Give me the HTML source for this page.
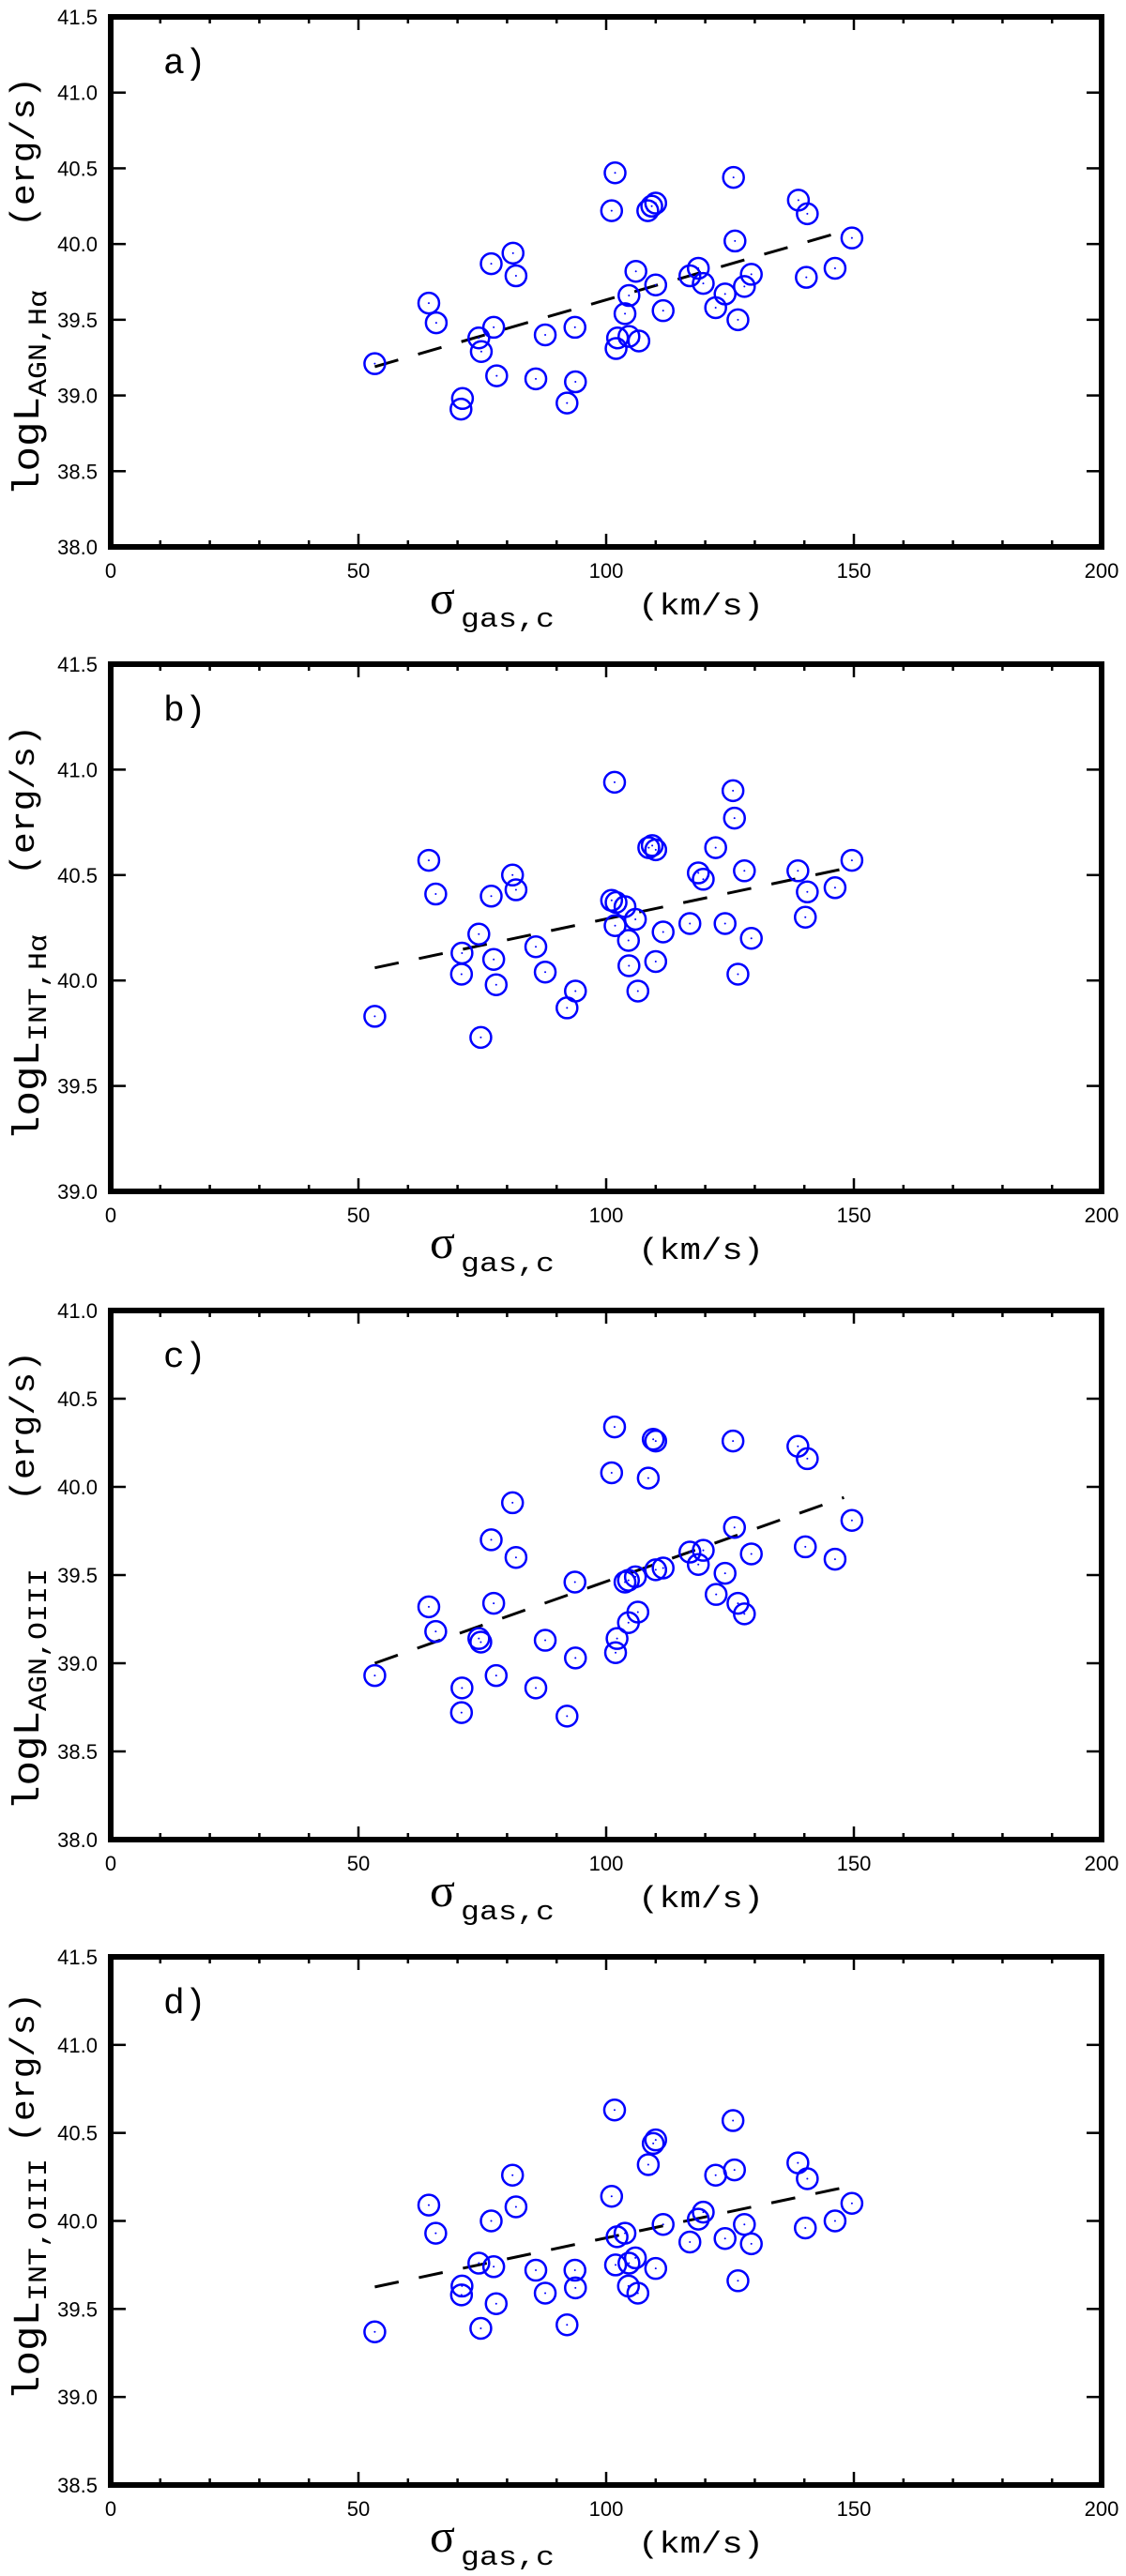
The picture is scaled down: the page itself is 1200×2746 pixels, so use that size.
<!DOCTYPE html>
<html><head><meta charset="utf-8"><style>
html,body{margin:0;padding:0;background:#fff;}
svg{display:block;}
</style></head><body>
<svg id="fig" width="1200" height="2746" viewBox="0 0 1200 2746" xmlns="http://www.w3.org/2000/svg"></svg>
<script>
// ---- data (sigma_gas,c in km/s ; log L in erg/s) ----
const xA = [53.3,64.2,65.7,76.8,81.2,81.8,77.3,74.3,74.8,77.9,71.0,70.7,87.7,93.7,85.8,93.8,92.1,101.8,101.1,108.4,109.2,110.0,106.0,110.0,104.6,103.8,111.5,102.3,102.0,104.6,106.6,125.7,126.0,116.9,118.6,119.6,129.3,127.9,124.0,122.1,126.6,138.8,140.6,149.6,146.2,140.4];
const yA = [39.21,39.61,39.48,39.87,39.94,39.79,39.45,39.38,39.29,39.13,38.98,38.91,39.40,39.45,39.11,39.09,38.95,40.47,40.22,40.22,40.25,40.27,39.82,39.73,39.66,39.54,39.56,39.38,39.31,39.39,39.36,40.44,40.02,39.79,39.84,39.74,39.80,39.72,39.67,39.58,39.50,40.29,40.20,40.04,39.84,39.78];
const xB = [101.7,125.6,125.9,108.6,109.3,110.0,122.1,64.2,149.6,81.1,81.8,65.6,76.8,127.9,138.7,118.6,119.6,140.6,146.2,140.2,101.1,102.0,103.8,105.9,101.8,104.5,111.5,116.9,124.0,129.3,74.3,70.9,77.3,85.8,70.8,77.8,87.7,104.6,110.0,126.6,93.8,92.1,106.4,53.3,74.7];
const yB = [40.94,40.90,40.77,40.63,40.64,40.62,40.63,40.57,40.57,40.50,40.43,40.41,40.40,40.52,40.52,40.51,40.48,40.42,40.44,40.30,40.38,40.37,40.35,40.29,40.26,40.19,40.23,40.27,40.27,40.20,40.22,40.13,40.10,40.16,40.03,39.98,40.04,40.07,40.09,40.03,39.95,39.87,39.95,39.83,39.73];
const xC = [101.7,109.5,110.0,125.6,138.7,140.6,101.1,108.5,81.1,149.6,125.9,76.8,81.8,140.2,146.2,116.9,119.6,129.3,118.6,124.0,110.0,111.5,103.8,104.5,105.9,93.7,64.2,77.3,106.4,104.5,122.2,126.6,127.9,65.6,74.3,74.7,87.7,102.2,101.9,93.8,53.3,77.8,70.9,85.8,70.8,92.1];
const yC = [40.34,40.27,40.26,40.26,40.23,40.16,40.08,40.05,39.91,39.81,39.77,39.70,39.60,39.66,39.59,39.63,39.64,39.62,39.56,39.51,39.53,39.54,39.46,39.47,39.49,39.46,39.32,39.34,39.29,39.23,39.39,39.34,39.28,39.18,39.14,39.12,39.13,39.14,39.06,39.03,38.93,38.93,38.86,38.86,38.72,38.70];
const xD = [101.7,125.6,109.5,110.0,108.5,81.1,125.9,122.1,138.7,140.6,64.2,81.8,101.1,149.6,65.6,76.8,118.6,119.6,111.5,127.9,146.2,140.2,102.2,103.8,116.9,124.0,129.3,74.3,77.3,85.8,93.7,101.9,104.6,105.9,110.0,93.8,104.5,106.4,126.6,70.9,70.8,87.7,77.8,92.1,74.7,53.3];
const yD = [40.63,40.57,40.44,40.46,40.32,40.26,40.29,40.26,40.33,40.24,40.09,40.08,40.14,40.10,39.93,40.00,40.01,40.05,39.98,39.98,40.00,39.96,39.91,39.93,39.88,39.90,39.87,39.76,39.74,39.72,39.72,39.75,39.76,39.79,39.73,39.62,39.63,39.59,39.66,39.63,39.58,39.59,39.53,39.41,39.39,39.37];
// regression line endpoints (x, y)
const fitX = [53.3,148.0];
const fitA = [39.19,40.085];
const fitB = [40.06,40.53];
const fitC = [39.00,39.94];
const fitD = [39.625,40.19];
// axis ranges / ticks
const xTicks = [0,50,100,150,200];
const yRangeA = [38.0,41.5], yRangeB = [39.0,41.5], yRangeC = [38.0,41.0], yRangeD = [38.5,41.5];

const NS = "http://www.w3.org/2000/svg";
const svg = document.getElementById('fig');
function mk(tag, attrs, parent){
  const e = document.createElementNS(NS, tag);
  for (const k in attrs) e.setAttribute(k, attrs[k]);
  (parent||svg).appendChild(e);
  return e;
}
const X0 = 118, X1 = 1174;
const panels = [
  {id:'a', top:18, bot:583, yr:yRangeA, xs:xA, ys:yA, fit:fitA, sub:'AGN,Hα', labStart:529, ergStart:242},
  {id:'b', top:708, bot:1270, yr:yRangeB, xs:xB, ys:yB, fit:fitB, sub:'INT,Hα', labStart:1216, ergStart:933},
  {id:'c', top:1397, bot:1961, yr:yRangeC, xs:xC, ys:yC, fit:fitC, sub:'AGN,OIII', labStart:1930, ergStart:1600},
  {id:'d', top:2086, bot:2649, yr:yRangeD, xs:xD, ys:yD, fit:fitD, sub:'INT,OIII', labStart:2559, ergStart:2284}
];
panels.forEach(p => {
  const g = mk('g', {});
  
  
  const sx = v => X0 + (v - 0) / 200 * (X1 - X0);
  const sy = v => p.bot - (v - p.yr[0]) / (p.yr[1] - p.yr[0]) * (p.bot - p.top);
  for (let v = 0; v <= 200; v += 10) {
    const major = v % 50 === 0;
    const L = major ? 14 : 7;
    const tb = mk('line', {x1:sx(v), x2:sx(v), y1:p.bot, y2:p.bot - L, stroke:'#000', 'stroke-width':2.5}, g);
    
    
    const tt = mk('line', {x1:sx(v), x2:sx(v), y1:p.top, y2:p.top + L, stroke:'#000', 'stroke-width':2.5}, g);
    
    
  }
  xTicks.forEach(v => {
    const t = mk('text', {x:sx(v), y:p.bot + 33, 'text-anchor':'middle', 'font-family':'Liberation Sans, sans-serif', 'font-size':22}, g);
    t.textContent = String(v);
    
    
  });
  for (let v = p.yr[0]; v <= p.yr[1] + 1e-9; v += 0.5) {
    const yl = mk('line', {x1:X0, x2:X0 + 16, y1:sy(v), y2:sy(v), stroke:'#000', 'stroke-width':2.5}, g);
    
    
    const yr = mk('line', {x1:X1, x2:X1 - 16, y1:sy(v), y2:sy(v), stroke:'#000', 'stroke-width':2.5}, g);
    
    
    const t = mk('text', {x:104, y:sy(v) + 8, 'text-anchor':'end', 'font-family':'Liberation Sans, sans-serif', 'font-size':22}, g);
    t.textContent = v.toFixed(1);
    
    
  }
  const fr = mk('rect', {x:X0, y:p.top, width:X1 - X0, height:p.bot - p.top, fill:'none', stroke:'#000', 'stroke-width':6}, g);
  
  
  const pl = mk('text', {x:174, y:p.top + 60, 'font-family':'Liberation Mono, monospace', 'font-size':38}, g);
  pl.textContent = p.id + ')';
  
  
  const fl = mk('line', {x1:sx(fitX[0]), y1:sy(p.fit[0]), x2:sx(fitX[1]), y2:sy(p.fit[1]), stroke:'#000', 'stroke-width':3, 'stroke-dasharray':'26 22'}, g);
  
  
  p.xs.forEach((xv, i) => {
    const c = mk('circle', {cx:sx(xv), cy:sy(p.ys[i]), r:11, fill:'none', stroke:'#0000ff', 'stroke-width':2.5}, g);
    
    
    const d = mk('circle', {cx:sx(xv), cy:sy(p.ys[i]), r:1, fill:'#0000ff'}, g);
    
    
  });
  const subLen = p.sub.length * 19;
  const yt = mk('text', {x:41, y:p.labStart, transform:'rotate(-90 41 ' + p.labStart + ')', 'font-family':'Liberation Mono, monospace', 'font-size':40, textLength:106, lengthAdjust:'spacingAndGlyphs'}, g);
  yt.textContent = 'logL';
  
  
  const ys2 = p.labStart - 106;
  const ysb = mk('text', {x:49, y:ys2, transform:'rotate(-90 49 ' + ys2 + ')', 'font-family':'Liberation Mono, "DejaVu Sans Mono", monospace', 'font-size':28, textLength:subLen, lengthAdjust:'spacingAndGlyphs'}, g);
  ysb.textContent = p.sub;
  
  
  const ye = mk('text', {x:36, y:p.ergStart, transform:'rotate(-90 36 ' + p.ergStart + ')', 'font-family':'Liberation Mono, monospace', 'font-size':36, textLength:160, lengthAdjust:'spacingAndGlyphs'}, g);
  ye.textContent = '(erg/s)';
  
  
  const xs1 = mk('text', {x:458, y:p.bot + 71, 'font-family':'Liberation Serif, serif', 'font-size':50}, g);
  xs1.textContent = 'σ';
  
  
  const xs2 = mk('text', {x:491, y:p.bot + 85, 'font-family':'Liberation Mono, monospace', 'font-size':29, textLength:100, lengthAdjust:'spacingAndGlyphs'}, g);
  xs2.textContent = 'gas,c';
  
  
  const xs3 = mk('text', {x:680, y:p.bot + 72, 'font-family':'Liberation Mono, monospace', 'font-size':32, textLength:134, lengthAdjust:'spacingAndGlyphs'}, g);
  xs3.textContent = '(km/s)';
  
  
});
</script>
</body></html>
